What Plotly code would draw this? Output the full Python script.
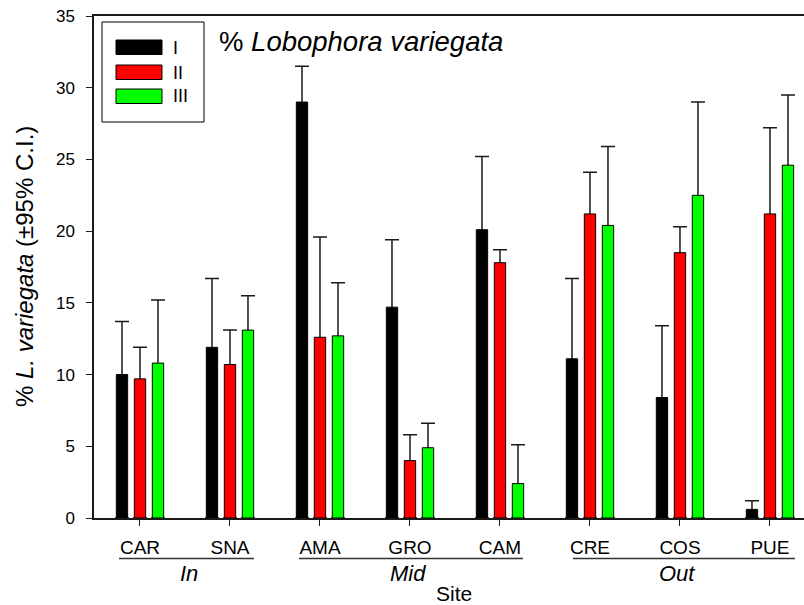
import plotly.graph_objects as go

# Site codes along the x axis and the reef-zone groups they belong to
sites = ["CAR", "SNA", "AMA", "GRO", "CAM", "CRE", "COS", "PUE"]
zones = ["In", "Mid", "Out"]

# Mean % cover of Lobophora variegata for each sampling period
period_names = ["I", "II", "III"]
cover_I = [10.0, 11.9, 29.0, 14.7, 20.1, 11.1, 8.4, 0.6]
cover_II = [9.7, 10.7, 12.6, 4.0, 17.8, 21.2, 18.5, 21.2]
cover_III = [10.8, 13.1, 12.7, 4.9, 2.4, 20.4, 22.5, 24.6]

# Upper 95% confidence limits
upper_I = [13.7, 16.7, 31.5, 19.4, 25.2, 16.7, 13.4, 1.2]
upper_II = [11.9, 13.1, 19.6, 5.8, 18.7, 24.1, 20.3, 27.2]
upper_III = [15.2, 15.5, 16.4, 6.6, 5.1, 25.9, 29.0, 29.5]

y_ticks = [0, 5, 10, 15, 20, 25, 30, 35]

colors = ["#000000", "#ff0000", "#00ff00"]
series = [
    (period_names[0], cover_I, upper_I, colors[0]),
    (period_names[1], cover_II, upper_II, colors[1]),
    (period_names[2], cover_III, upper_III, colors[2]),
]

FONT = "Liberation Sans, Arial, sans-serif"
INK = "#1a1a1a"

# page geometry of the plotting area (pixels)
W, H = 804, 605
L, R, T, B = 94, 0, 16, 87
PW, PH = W - L - R, H - T - B


def px(x):
    return (x - L) / PW


def py(y):
    return (H - B - y) / PH


fig = go.Figure()

# Error whiskers first (on transparent bars) so the solid bars cover their stems
for name, vals, ups, col in series:
    fig.add_trace(go.Bar(
        x=sites, y=vals, offsetgroup=name, showlegend=False, hoverinfo="skip",
        marker=dict(color="rgba(0,0,0,0)", line=dict(width=0)),
        error_y=dict(type="data", symmetric=False,
                     array=[u - v for u, v in zip(ups, vals)],
                     arrayminus=vals,
                     color=INK, thickness=1.5, width=7),
    ))

for name, vals, ups, col in series:
    fig.add_trace(go.Bar(
        x=sites, y=vals, name=name, offsetgroup=name, showlegend=False,
        marker=dict(color=col, line=dict(color="#000000", width=1)),
    ))

shapes = []
annotations = []

# legend box with wide swatches
shapes.append(dict(type="rect", xref="paper", yref="paper",
                   x0=px(102), x1=px(204), y0=py(122), y1=py(22),
                   line=dict(color="#000000", width=1), fillcolor="white", layer="above"))
for i, (name, vals, ups, col) in enumerate(series):
    top = [40, 65, 89][i]
    shapes.append(dict(type="rect", xref="paper", yref="paper",
                       x0=px(116), x1=px(162), y0=py(top + 14.5), y1=py(top),
                       line=dict(color="#000000", width=1), fillcolor=col, layer="above"))
    annotations.append(dict(text=name, xref="paper", yref="paper",
                            x=px(171), y=py(top + 7.5), xanchor="left", yanchor="middle",
                            showarrow=False, font=dict(size=18, color="#000000", family=FONT)))

# chart title
annotations.append(dict(text="% <i>Lobophora variegata</i>", xref="paper", yref="paper",
                        x=px(217), y=py(42), xanchor="left", yanchor="middle",
                        showarrow=False, font=dict(size=27.5, color="#000000", family=FONT)))

# y axis title
annotations.append(dict(text="% <i>L. variegata</i> (±95% C.I.)", xref="paper", yref="paper",
                        x=px(24), y=py(267), xanchor="center", yanchor="middle", textangle=-90,
                        showarrow=False, font=dict(size=24, color="#000000", family=FONT)))

# zone underlines and labels
zone_spans = [(119, 254), (299, 523), (573, 795)]
zone_centers = [188.5, 408, 677]
for z, (a, b), c in zip(zones, zone_spans, zone_centers):
    shapes.append(dict(type="line", xref="paper", yref="paper",
                       x0=px(a), x1=px(b), y0=py(558.5), y1=py(558.5),
                       line=dict(color="#333333", width=1.5)))
    annotations.append(dict(text=f"<i>{z}</i>", xref="paper", yref="paper",
                            x=px(c), y=py(573), xanchor="center", yanchor="middle",
                            showarrow=False, font=dict(size=22, color="#000000", family=FONT)))

annotations.append(dict(text="Site", xref="paper", yref="paper",
                        x=px(454), y=py(593), xanchor="center", yanchor="middle",
                        showarrow=False, font=dict(size=21, color="#000000", family=FONT)))

fig.update_layout(
    width=W, height=H,
    margin=dict(l=L, r=R, t=T, b=B),
    paper_bgcolor="white", plot_bgcolor="white",
    barmode="group", bargap=0.4, bargroupgap=0.37,
    shapes=shapes, annotations=annotations,
    showlegend=False,
    font=dict(family=FONT, color="#000000"),
)

fig.update_xaxes(
    type="category", categoryorder="array", categoryarray=sites,
    range=[-0.511, 7.378],
    showline=True, linecolor=INK, linewidth=1.5, mirror=True,
    ticks="outside", ticklen=6, tickwidth=1.2, tickcolor=INK,
    tickfont=dict(size=19, family=FONT, color="#000000"),
    ticklabelstandoff=5,
    showgrid=False, zeroline=False,
)
fig.update_yaxes(
    range=[0, 35], tickvals=y_ticks, ticktext=[str(v) for v in y_ticks],
    showline=True, linecolor=INK, linewidth=1.5,
    ticks="outside", ticklen=6, tickwidth=1.2, tickcolor=INK,
    tickfont=dict(size=17, family=FONT, color="#000000"),
    ticklabelstandoff=8,
    showgrid=False, zeroline=False,
)

fig.write_html("out.html")
